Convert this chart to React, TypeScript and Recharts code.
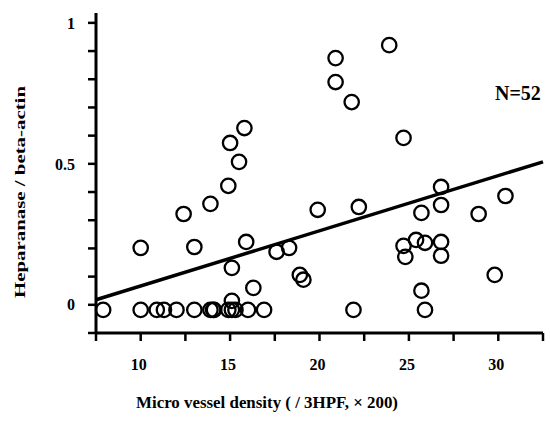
import React from 'react';
import { ScatterChart, Scatter, XAxis, YAxis, ReferenceLine, ReferenceDot } from 'recharts';

// Micro vessel density (x) and Heparanase / beta-actin ratio (y), one entry per case (N=52)
const densityValues = [
  23.9, 20.9, 20.9, 21.8, 15.8, 15.0, 24.7, 15.5, 14.9, 13.9,
  12.4, 19.9, 22.2, 30.4, 26.8, 26.8, 25.7, 28.9, 10.0, 13.0,
  15.9, 17.6, 18.3, 24.7, 24.8, 25.4, 25.9, 26.8, 26.8, 15.1,
  18.9, 19.1, 29.8, 16.3, 25.7, 15.1,
  7.9, 10.0, 10.9, 11.3, 12.0, 13.0, 13.9, 14.05, 14.1, 14.9,
  15.1, 15.3, 16.0, 16.9, 21.9, 25.9,
];
const ratioValues = [
  0.921, 0.875, 0.79, 0.719, 0.627, 0.574, 0.592, 0.507, 0.422, 0.358,
  0.322, 0.337, 0.347, 0.386, 0.418, 0.354, 0.326, 0.322, 0.202, 0.205,
  0.223, 0.188, 0.202, 0.209, 0.17, 0.23, 0.22, 0.223, 0.174, 0.131,
  0.106, 0.089, 0.106, 0.06, 0.05, 0.014,
  -0.018, -0.018, -0.018, -0.018, -0.018, -0.018, -0.018, -0.018, -0.018, -0.018,
  -0.018, -0.018, -0.018, -0.018, -0.018, -0.018,
];

// regression line end points
const fitX = [7.5, 32.5];
const fitY = [0.018, 0.507];

const xTicks = [7.5, 10, 12.5, 15, 17.5, 20, 22.5, 25, 27.5, 30, 32.5];
const xLabelled = [10, 15, 20, 25, 30];
const yTicks = [-0.1, 0, 0.1, 0.2, 0.3, 0.4, 0.5, 0.6, 0.7, 0.8, 0.9, 1.0];
const yLabelled = [0, 0.5, 1];

const sampleCount = 'N=52';
const xTitle = 'Micro vessel density ( / 3HPF, × 200)';
const yTitle = 'Heparanase / beta-actin';

const points = densityValues.map((x, i) => ({ x, y: ratioValues[i] }));

const FONT = '"Liberation Serif", "Times New Roman", serif';

const Ring = (props: any) => {
  const { cx, cy } = props;
  if (cx == null || cy == null) return null;
  return <circle cx={cx} cy={cy} r={7.2} fill="none" stroke="#000" strokeWidth={2.3} />;
};

const fmtX = (v: number) => (xLabelled.includes(v) ? String(v) : '');
const fmtY = (v: number) => {
  const r = Math.round(v * 10) / 10;
  return yLabelled.includes(r) ? String(r) : '';
};

export default function App() {
  return (
    <div style={{ position: 'absolute', left: 0, top: 0, width: 550, height: 421, background: '#fff' }}>
      <ScatterChart width={550} height={421} margin={{ top: 13, right: 7, bottom: 0, left: 0 }}>
        <XAxis
          type="number"
          dataKey="x"
          domain={[7.5, 32.5]}
          ticks={xTicks}
          tickFormatter={fmtX}
          interval={0}
          height={88}
          axisLine={{ stroke: '#000', strokeWidth: 3 }}
          tickLine={{ stroke: '#000', strokeWidth: 2.5 }}
          tickSize={8}
          tickMargin={18}
          tick={{ fill: '#000', fontSize: 16, fontWeight: 'bold', fontFamily: FONT, dx: -2 }}
          label={{
            content: () => (
              <text
                x={267}
                y={402}
                textAnchor="middle"
                dominantBaseline="central"
                fontFamily={FONT}
                fontWeight="bold"
                fontSize={17}
                fill="#000"
                textLength={262}
                lengthAdjust="spacingAndGlyphs"
              >
                {xTitle}
              </text>
            ),
          }}
        />
        <YAxis
          type="number"
          dataKey="y"
          domain={[-0.1, 1.035]}
          ticks={yTicks}
          tickFormatter={fmtY}
          interval={0}
          width={96}
          axisLine={{ stroke: '#000', strokeWidth: 3 }}
          tickLine={{ stroke: '#000', strokeWidth: 2.5 }}
          tickSize={8}
          tickMargin={13}
          tick={{ fill: '#000', fontSize: 16, fontWeight: 'bold', fontFamily: FONT }}
          label={{
            content: () => (
              <text
                x={20}
                y={192}
                transform="rotate(-90 20 192)"
                textAnchor="middle"
                dominantBaseline="central"
                fontFamily={FONT}
                fontWeight="bold"
                fontSize={15}
                fill="#000"
                textLength={212}
                lengthAdjust="spacingAndGlyphs"
              >
                {yTitle}
              </text>
            ),
          }}
        />
        <ReferenceLine
          segment={[
            { x: fitX[0], y: fitY[0] },
            { x: fitX[1], y: fitY[1] },
          ]}
          stroke="#000"
          strokeWidth={3.5}
          ifOverflow="visible"
        />
        <Scatter data={points} shape={Ring} isAnimationActive={false} />
        <ReferenceDot
          x={31.1}
          y={0.751}
          r={0}
          fill="none"
          stroke="none"
          ifOverflow="visible"
          label={{
            content: (p: any) => (
              <text
                x={p.viewBox ? p.viewBox.x + p.viewBox.width / 2 : 517}
                y={p.viewBox ? p.viewBox.y + p.viewBox.height / 2 : 93}
                textAnchor="middle"
                dominantBaseline="central"
                fontFamily={FONT}
                fontWeight="bold"
                fontSize={20}
                fill="#000"
              >
                {sampleCount}
              </text>
            ),
          }}
        />
      </ScatterChart>
    </div>
  );
}
